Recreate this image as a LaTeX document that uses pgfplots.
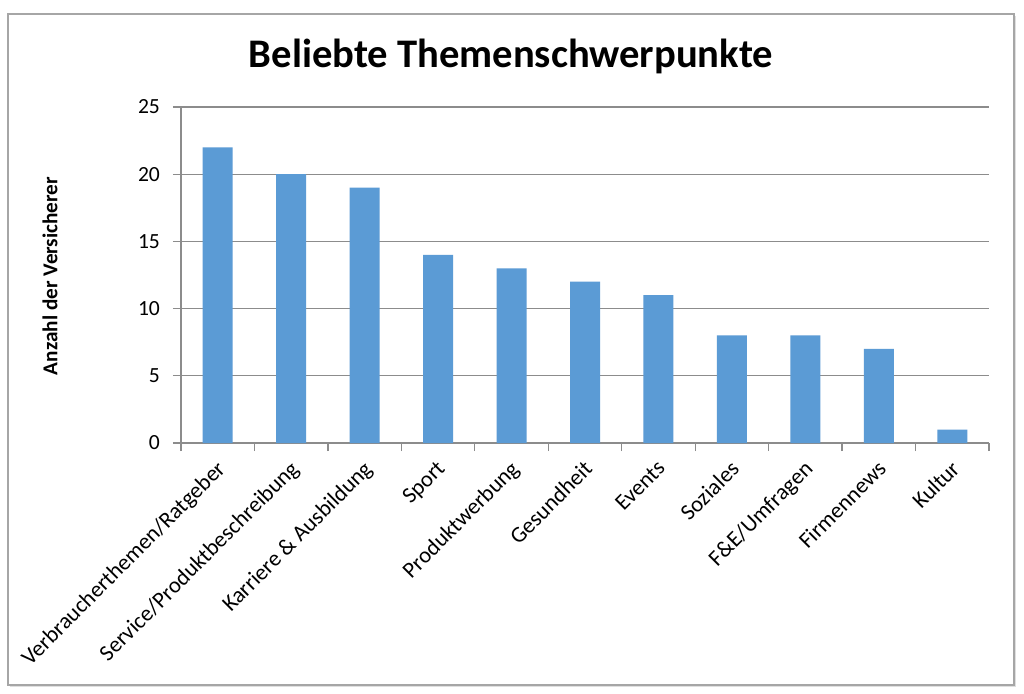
\documentclass[border=0pt]{standalone}
\usepackage{pgfplots}
\pgfplotsset{compat=1.18}
\usepackage{fontspec}
\setmainfont{Carlito}
\definecolor{barblue}{HTML}{5B9BD5}
\definecolor{gridgray}{HTML}{8C8C8C}
\definecolor{framegray}{HTML}{A6A6A6}
\begin{document}
\begin{tikzpicture}
\path[use as bounding box] (0,0) rectangle (512pt,346.5pt);
\fill[gray!25] (5pt,3pt) rectangle (508pt,338.5pt);
\filldraw[fill=white,draw=framegray,line width=0.8pt] (4pt,4pt) rectangle (507pt,339.5pt);
\node[font=\fontsize{20.3}{23}\selectfont\bfseries] at (255.5pt,318.5pt) {Beliebte Themenschwerpunkte};
\node[font=\fontsize{10.6}{12}\selectfont\bfseries,rotate=90] at (25pt,208.5pt) {Anzahl der Versicherer};
\begin{axis}[
  at={(90.5pt,125pt)}, anchor=south west,
  scale only axis, width=404pt, height=168pt,
  xmin=-0.5, xmax=10.5, ymin=0, ymax=25,
  ytick={0,5,10,15,20,25},
  xtick={-0.5,0.5,...,10.5}, xticklabels={},
  extra x ticks={0,1,2,3,4,5,6,7,8,9,10},
  extra x tick labels={Verbraucherthemen/Ratgeber,Service/Produktbeschreibung,Karriere \& Ausbildung,Sport,Produktwerbung,Gesundheit,Events,Soziales,F\&E/Umfragen,Firmennews,Kultur},
  extra x tick style={major tick length=0pt, grid=none},
  axis x line*=bottom, axis y line*=left,
  axis line style={gridgray, line width=0.6pt},
  tick align=outside, major tick length=4pt,
  tick style={gridgray, line width=0.6pt},
  ymajorgrids, grid style={gridgray, line width=0.6pt},
  yticklabel style={font=\fontsize{10.8}{12}\selectfont, xshift=-3pt},
  x tick label style={font=\fontsize{11.3}{13}\selectfont, xshift=-1.25pt, yshift=-6.5pt, rotate=45, anchor=north east, inner sep=1pt},
  /pgf/number format/assume math mode=true,
  clip=false,
]
\addplot[ybar, bar width=15pt, fill=barblue, draw=none, bar shift=0pt] coordinates {
(0,22) (1,20) (2,19) (3,14) (4,13) (5,12) (6,11) (7,8) (8,8) (9,7) (10,1)};
\end{axis}
\end{tikzpicture}
\end{document}
